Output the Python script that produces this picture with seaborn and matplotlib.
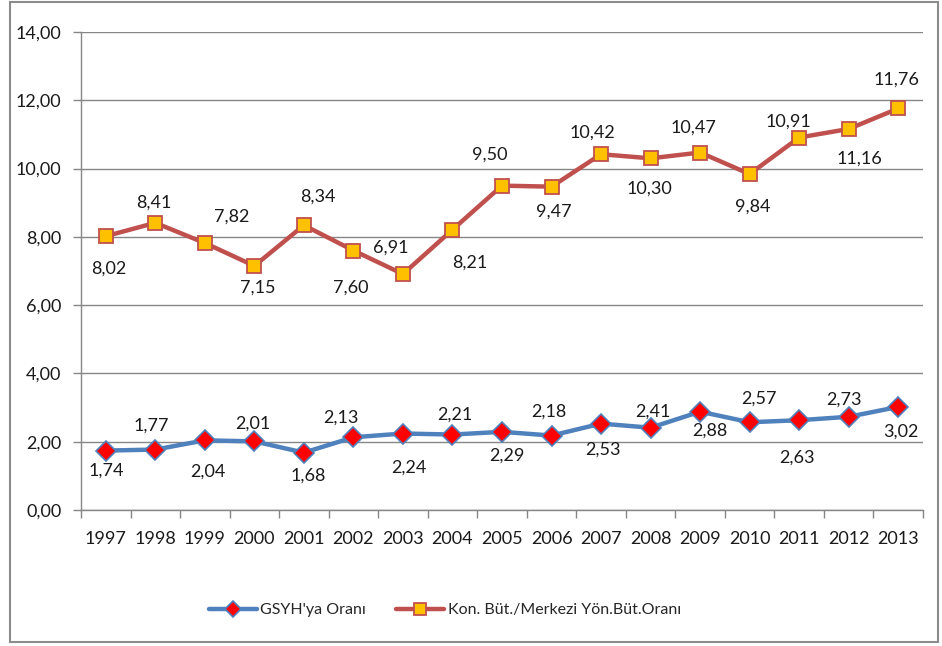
import matplotlib
matplotlib.use("Agg")
import matplotlib.pyplot as plt
import seaborn as sns
import pandas as pd
from matplotlib.patches import Rectangle
from matplotlib.ticker import FixedLocator

years = ["1997", "1998", "1999", "2000", "2001", "2002", "2003", "2004", "2005",
         "2006", "2007", "2008", "2009", "2010", "2011", "2012", "2013"]
gsyh = [1.74, 1.77, 2.04, 2.01, 1.68, 2.13, 2.24, 2.21, 2.29, 2.18, 2.53, 2.41,
        2.88, 2.57, 2.63, 2.73, 3.02]
konbut = [8.02, 8.41, 7.82, 7.15, 8.34, 7.60, 6.91, 8.21, 9.50, 9.47, 10.42, 10.30,
          10.47, 9.84, 10.91, 11.16, 11.76]
series_names = ["GSYH'ya Oranı", "Kon. Büt./Merkezi Yön.Büt.Oranı"]
yticks = [0, 2, 4, 6, 8, 10, 12, 14]

# label placement offsets in pixels (dx right, dy down)
gsyh_lbl_dx = [1, -4, 3, -2, 4, -13, 6, 2, 5, -3, 2, 2, 10, 9, -2, -5, 3]
gsyh_lbl_dy = [20, -24, 31, -18, 23, -20, 34, -20, 24, -24, 26, -16, 19, -24, 37, -17, 25]
kon_lbl_dx = [3, -1, 27, 3, 14, -3, -12, 17, -12, 2, -9, -1, -7, 3, -11, 11, -2]
kon_lbl_dy = [32, -20, -26, 22, -29, 37, -26, 33, -31, 25, -22, 30, -25, 33, -16, 30, -29]

sns.set_theme(style="white")
plt.rcParams['font.family'] = ['Lato', 'DejaVu Sans']

fig = plt.figure(figsize=(9.42, 6.46), dpi=100)
ax = fig.add_axes([81/942, 1-510/646, 842/942, 478/646])

df = pd.DataFrame({"x": list(range(len(years))) * 2,
                   "y": gsyh + konbut,
                   "s": [series_names[0]] * len(years) + [series_names[1]] * len(years)})

blue = "#4F81BD"
red = "#C0504D"
sns.lineplot(data=df[df.s == series_names[0]], x="x", y="y", ax=ax, color=blue,
             linewidth=3.2, marker="D", markersize=10, markerfacecolor="#FF0000",
             markeredgecolor=blue, markeredgewidth=1.2, label=series_names[0], zorder=3)
sns.lineplot(data=df[df.s == series_names[1]], x="x", y="y", ax=ax, color=red,
             linewidth=3.2, marker="s", markersize=10.5, markerfacecolor="#FFC000",
             markeredgecolor=red, markeredgewidth=1.3, label=series_names[1], zorder=3)

def fmt(v):
    return f"{v:.2f}".replace(".", ",")

for i, v in enumerate(gsyh):
    ax.annotate(fmt(v), (i, v), xytext=(gsyh_lbl_dx[i], -gsyh_lbl_dy[i]),
                textcoords="offset pixels", ha="center", va="center",
                fontsize=13, color="#1a1a1a")
for i, v in enumerate(konbut):
    ax.annotate(fmt(v), (i, v), xytext=(kon_lbl_dx[i], -kon_lbl_dy[i]),
                textcoords="offset pixels", ha="center", va="center",
                fontsize=13, color="#1a1a1a")

ax.set_xlim(-0.5, len(years) - 0.5)
ax.set_ylim(0, 14)
ax.set_yticks(yticks)
ax.set_yticklabels([fmt(v) for v in yticks], fontsize=13, color="#1a1a1a")
ax.set_xticks(range(len(years)))
ax.set_xticklabels(years, fontsize=13, color="#1a1a1a")
ax.xaxis.set_minor_locator(FixedLocator([i - 0.5 for i in range(len(years) + 1)]))
ax.tick_params(axis="x", which="major", length=0, pad=15)
ax.tick_params(axis="x", which="minor", length=6, width=1, color="#868686", direction="out", bottom=True)
ax.tick_params(axis="y", length=6, width=1, color="#868686", direction="out", left=True, pad=8)
ax.set_xlabel("")
ax.set_ylabel("")
ax.grid(axis="y", color="#868686", linewidth=1)
ax.grid(axis="x", visible=False)
for s in ["top", "right"]:
    ax.spines[s].set_visible(False)
for s in ["left", "bottom"]:
    ax.spines[s].set_color("#868686")
    ax.spines[s].set_linewidth(1)

ax.legend(loc="center", bbox_to_anchor=(445/942, 36/646), bbox_transform=fig.transFigure,
          ncol=2, frameon=False, fontsize=11.5, handlelength=3.0, columnspacing=1.9,
          handletextpad=0.2, markerscale=0.8)

fig.patches.append(Rectangle((10/942, 4/646), 928/942, 640/646, transform=fig.transFigure,
                             fill=False, edgecolor="#8c8c8c", linewidth=1.5))
fig.savefig("out.png", dpi=100)
